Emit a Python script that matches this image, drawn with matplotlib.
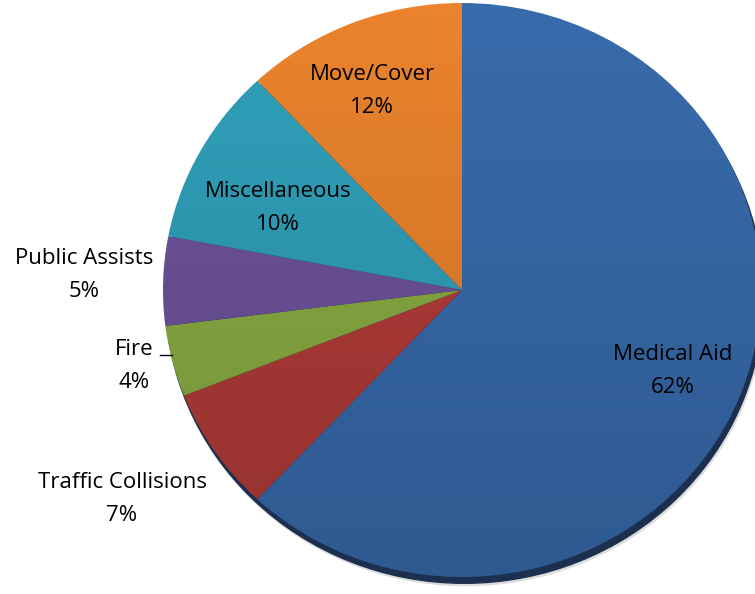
import matplotlib.pyplot as plt
import numpy as np
from matplotlib.patches import Circle, Ellipse

plt.rcParams['font.family'] = ['Open Sans', 'DejaVu Sans']

# chart data, clockwise from 12 o'clock
categories = ['Medical Aid', 'Traffic Collisions', 'Fire', 'Public Assists', 'Miscellaneous', 'Move/Cover']
shares = [62, 7, 4, 5, 10, 12]
colors = ['#386BAC', '#B23C39', '#8AAD43', '#6E539C', '#30A0BA', '#EA832C']

# label anchor points in axis units (pie radius = 1)
label_pos = [(0.706, -0.282), (-1.137, -0.728), (-1.097, -0.265),
             (-1.264, 0.052), (-0.615, 0.286), (-0.301, 0.693)]

fig = plt.figure(figsize=(7.55, 5.94), dpi=100)
ax = fig.add_axes([0, 0, 1, 1])

# dark rim / shadow under the pie
ax.add_patch(Ellipse((0.012, -0.03), 2.0, 2.0, color='#dcdcdc', zorder=0))
ax.add_patch(Ellipse((0.008, -0.022), 2.0, 2.0, color='#1c2f4f', zorder=1))

wedges, _ = ax.pie(shares, colors=colors, startangle=90, counterclock=False,
                   radius=1, center=(0, 0),
                   wedgeprops=dict(linewidth=0))
for w in wedges:
    w.set_zorder(2)

# soft top-to-bottom shading over the pie
n = 256
grad = np.zeros((n, 2, 4))
t = np.linspace(0, 1, n)
grad[:, :, 3] = (0.16 * t)[:, None]
im = ax.imshow(grad, extent=(-1, 1, -1, 1), origin='upper', aspect='auto', zorder=3)
im.set_clip_path(Circle((0, 0), 1, transform=ax.transData))

for cat, val, (x, y) in zip(categories, shares, label_pos):
    ax.text(x, y, f'{cat}\n{val}%', ha='center', va='center', fontsize=16,
            linespacing=1.75, color='black', zorder=5)

# leader line for Fire
ax.plot([-1.01, -0.97], [-0.228, -0.228], color='black', lw=1, zorder=5)

ax.set_aspect('auto')
ax.set_xlim(-462 / 299, (755 - 462) / 299)
ax.set_ylim(-304 / 287, 290 / 287)
ax.axis('off')

fig.savefig('out.png', dpi=100)
